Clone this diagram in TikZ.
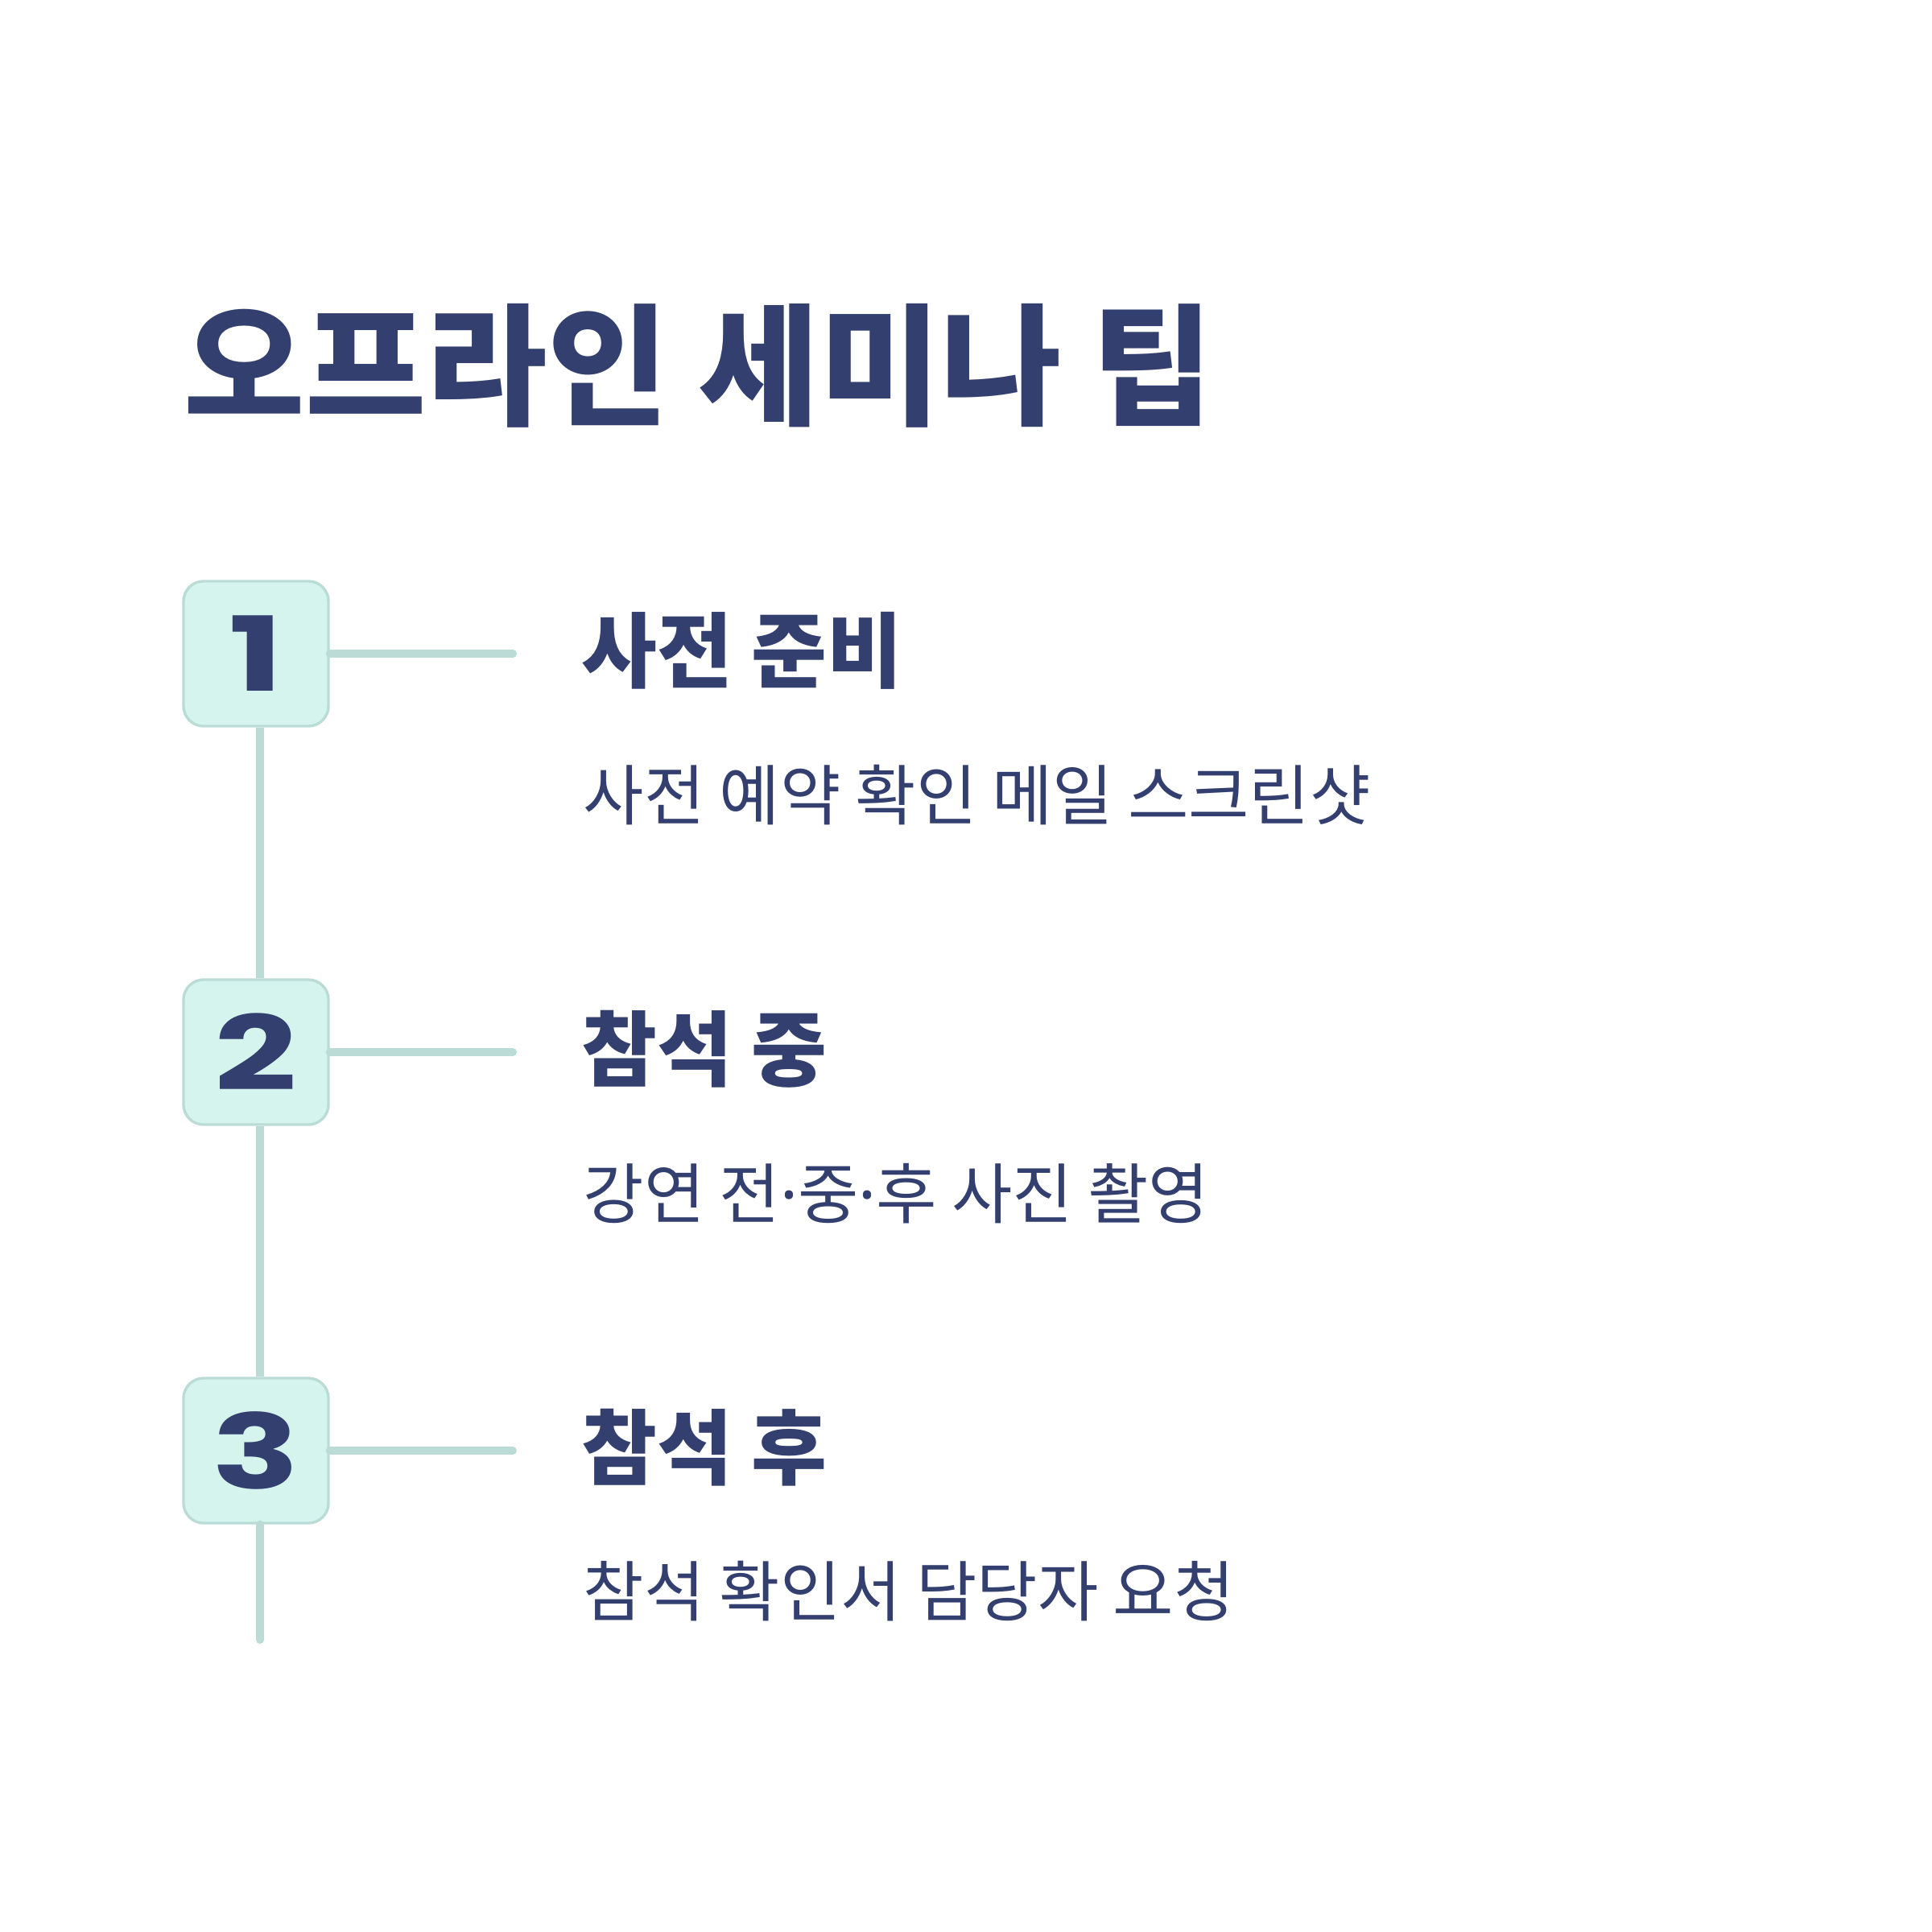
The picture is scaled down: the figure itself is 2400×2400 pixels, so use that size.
\documentclass[tikz,border=0pt]{standalone}
\usepackage{fontspec}
\usepackage{graphicx}
\setmainfont{Noto Sans CJK KR}
\newfontfamily\numfont{Poppins}
\newfontfamily\latinfont{Noto Sans}
\newcommand{\middot}{{\latinfont ·}}
\definecolor{navy}{HTML}{333F6F}
\definecolor{mintbg}{HTML}{D5F4EE}
\definecolor{mint}{HTML}{BBDCD6}

\begin{document}
\begin{tikzpicture}[
    x=0.01cm, y=-0.01cm,
    numbox/.style={draw=mint, fill=mintbg, line width=0.95pt,
                   rounded corners=0.25cm, minimum width=1.8cm,
                   minimum height=1.8cm, inner sep=0pt, text=navy,
                   font=\numfont\bfseries\fontsize{36.5pt}{40pt}\selectfont},
    ttl/.style={anchor=west, inner sep=0pt, text=navy,
                font=\bfseries\fontsize{46.5pt}{52pt}\selectfont},
    head/.style={anchor=west, inner sep=0pt, text=navy,
                 font=\bfseries\fontsize{29pt}{34pt}\selectfont},
    desc/.style={anchor=west, inner sep=0pt, text=navy,
                 font=\fontsize{23.3pt}{28pt}\selectfont},
    spine/.style={draw=mint, line width=2.85pt},
    tick/.style={draw=mint, line width=2.85pt, line cap=round},
  ]
  \useasboundingbox[fill=white] (0,0) rectangle (2400,2400);

  %% ---- title ---------------------------------------------------------
  \node[ttl] (T) at (228,454) {오프라인 세미나 팁};

  %% ---- steps ---------------------------------------------------------
  \node[numbox] (B1) at (318,812)  {\scalebox{1.4}[1]{1}};
  \node[numbox] (B2) at (318,1307) {\scalebox{1.4}[1]{2}};
  \node[numbox] (B3) at (318,1802) {\scalebox{1.4}[1]{3}};

  \node[head] (H1) at (722,808)  {사전 준비};
  \node[desc] (D1) at (724,988)  {사전 예약 확인 메일 스크린샷};
  \node[head] (H2) at (722,1303) {참석 중};
  \node[desc] (D2) at (724,1483) {강연 전\middot 중\middot 후 사진 촬영};
  \node[head] (H3) at (722,1798) {참석 후};
  \node[desc] (D3) at (724,1977) {참석 확인서 담당자 요청};

  %% ---- connectors ----------------------------------------------------
  \coordinate (tail) at (323,2037);
  \coordinate (e1) at (637,812);
  \coordinate (e2) at (637,1307);
  \coordinate (e3) at (637,1802);
  \draw[spine] (B1.south -| tail) -- (B2.north -| tail);
  \draw[spine] (B2.south -| tail) -- (B3.north -| tail);
  \draw[tick]  (B3.south -| tail) -- (tail);
  \draw[tick]  (B1.east) -- (e1);
  \draw[tick]  (B2.east) -- (e2);
  \draw[tick]  (B3.east) -- (e3);

\end{tikzpicture}
\end{document}
